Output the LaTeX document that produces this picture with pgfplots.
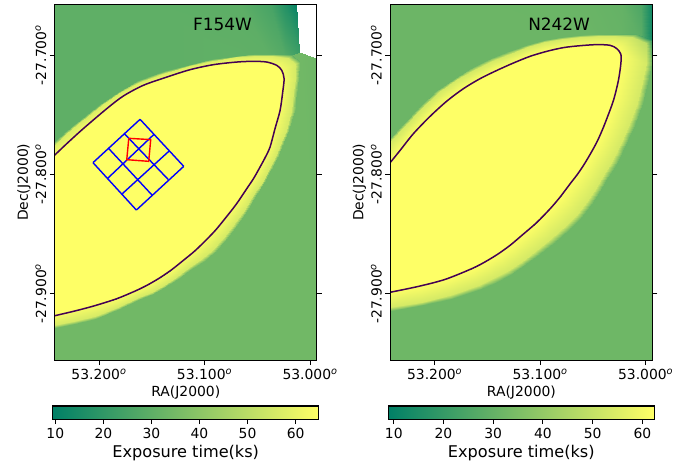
\documentclass[border=0pt]{standalone}
\usepackage{fontspec}
\setmainfont{DejaVu Sans}
\usepackage{pgfplots}
\usepackage{pgfplotstable}
\pgfplotsset{compat=1.18}

\pgfplotstableread{
ra dec v
53.2427 -27.7732 31
53.2313 -27.7640 31
53.2218 -27.7568 31
53.1991 -27.7409 31
53.1820 -27.7309 31
53.1621 -27.7212 31
53.1384 -27.7137 31
53.1156 -27.7082 31
53.0929 -27.7036 31
53.0701 -27.7007 31
53.0531 -27.6994 31
53.0341 -27.6990 30
53.0170 -27.6999 30
53.0099 -27.7062 33
53.0104 -27.7195 34
53.0123 -27.7313 34
53.0147 -27.7472 34
53.0199 -27.7631 34
53.0265 -27.7774 34
53.0314 -27.7873 34
53.0369 -27.7967 34
53.0433 -27.8071 34
53.0502 -27.8168 34
53.0598 -27.8310 34
53.0701 -27.8444 34
53.0799 -27.8553 34
53.0905 -27.8654 34
53.1018 -27.8734 34
53.1137 -27.8805 34
53.1254 -27.8880 34
53.1374 -27.8947 34
53.1492 -27.9002 34
53.1611 -27.9048 34
53.1810 -27.9131 34
53.2038 -27.9211 34
53.2237 -27.9257 34
53.2427 -27.9291 34
53.2427 -27.7760 57
53.2311 -27.7666 57
53.2201 -27.7580 57
53.1975 -27.7419 57
53.1808 -27.7318 57
53.1611 -27.7223 57
53.1378 -27.7149 57
53.1151 -27.7092 57
53.0926 -27.7047 57
53.0699 -27.7020 57
53.0533 -27.7009 57
53.0358 -27.7007 57
53.0206 -27.7021 56
53.0141 -27.7079 56
53.0140 -27.7196 56
53.0157 -27.7312 56
53.0181 -27.7470 56
53.0232 -27.7627 56
53.0294 -27.7773 56
53.0342 -27.7869 56
53.0395 -27.7960 56
53.0458 -27.8061 56
53.0527 -27.8156 56
53.0623 -27.8295 56
53.0727 -27.8426 56
53.0824 -27.8532 56
53.0928 -27.8630 56
53.1038 -27.8711 56
53.1153 -27.8784 56
53.1268 -27.8860 56
53.1386 -27.8927 56
53.1502 -27.8982 56
53.1619 -27.9029 56
53.1816 -27.9109 56
53.2042 -27.9184 56
53.2239 -27.9230 56
53.2427 -27.9265 56
53.2427 -27.7845 62.5
53.2306 -27.7743 62.5
53.2149 -27.7617 62.5
53.1927 -27.7450 62.5
53.1770 -27.7344 62.5
53.1580 -27.7254 62.5
53.1358 -27.7185 62.5
53.1137 -27.7123 62.5
53.0916 -27.7081 62.5
53.0695 -27.7059 62.5
53.0537 -27.7053 62.5
53.0410 -27.7059 62.5
53.0315 -27.7087 62.5
53.0268 -27.7129 62.5
53.0246 -27.7198 62.5
53.0259 -27.7310 62.5
53.0284 -27.7464 62.5
53.0332 -27.7617 62.5
53.0379 -27.7771 62.5
53.0424 -27.7857 62.5
53.0474 -27.7939 62.5
53.0534 -27.8033 62.5
53.0600 -27.8120 62.5
53.0699 -27.8250 62.5
53.0806 -27.8371 62.5
53.0897 -27.8469 62.5
53.0995 -27.8559 62.5
53.1095 -27.8644 62.5
53.1201 -27.8721 62.5
53.1310 -27.8798 62.5
53.1422 -27.8866 62.5
53.1532 -27.8923 62.5
53.1643 -27.8972 62.5
53.1832 -27.9042 62.5
53.2054 -27.9104 62.5
53.2244 -27.9148 62.5
53.2427 -27.9186 62.5
}\ringL

\pgfplotstableread{
ra dec
53.2427 -27.7845
53.2306 -27.7743
53.2149 -27.7617
53.1927 -27.7450
53.1770 -27.7344
53.1580 -27.7254
53.1358 -27.7185
53.1137 -27.7123
53.0916 -27.7081
53.0695 -27.7059
53.0537 -27.7053
53.0410 -27.7059
53.0315 -27.7087
53.0268 -27.7129
53.0246 -27.7198
53.0259 -27.7310
53.0284 -27.7464
53.0332 -27.7617
53.0379 -27.7771
53.0424 -27.7857
53.0474 -27.7939
53.0534 -27.8033
53.0600 -27.8120
53.0699 -27.8250
53.0806 -27.8371
53.0897 -27.8469
53.0995 -27.8559
53.1095 -27.8644
53.1201 -27.8721
53.1310 -27.8798
53.1422 -27.8866
53.1532 -27.8923
53.1643 -27.8972
53.1832 -27.9042
53.2054 -27.9104
53.2244 -27.9148
53.2427 -27.9186
}\contL

\pgfplotstableread{
ra dec v
53.2521 -27.7791 31.5
53.2436 -27.7703 31.5
53.2313 -27.7589 31.5
53.2152 -27.7439 31.5
53.1981 -27.7296 31.5
53.1810 -27.7191 31.5
53.1640 -27.7103 31.5
53.1469 -27.7028 31.5
53.1298 -27.6969 31.5
53.1137 -27.6919 31.5
53.0967 -27.6877 31.5
53.0796 -27.6852 31.5
53.0625 -27.6833 31.5
53.0455 -27.6824 31
53.0284 -27.6821 30
53.0095 -27.6827 28
52.9933 -27.6877 14
52.9943 -27.7070 32
52.9976 -27.7229 32
53.0028 -27.7405 32
53.0104 -27.7589 32
53.0163 -27.7710 32
53.0227 -27.7824 32
53.0295 -27.7936 32
53.0369 -27.8042 32
53.0440 -27.8154 32
53.0516 -27.8260 32
53.0614 -27.8365 32
53.0720 -27.8461 32
53.0872 -27.8579 32
53.1033 -27.8687 32
53.1158 -27.8769 32
53.1289 -27.8842 32
53.1425 -27.8907 32
53.1564 -27.8964 32
53.1848 -27.9043 32
53.2114 -27.9098 32
53.2427 -27.9142 32
53.2502 -27.7814 53.5
53.2414 -27.7722 53.5
53.2291 -27.7603 53.5
53.2130 -27.7454 53.5
53.1962 -27.7314 53.5
53.1793 -27.7209 53.5
53.1626 -27.7122 53.5
53.1457 -27.7048 53.5
53.1289 -27.6989 53.5
53.1129 -27.6937 53.5
53.0961 -27.6895 53.5
53.0793 -27.6869 53.5
53.0624 -27.6851 53.5
53.0456 -27.6842 53.5
53.0294 -27.6841 53.5
53.0131 -27.6851 52
52.9993 -27.6900 48
53.0001 -27.7070 53.5
53.0032 -27.7226 53.5
53.0083 -27.7400 53.5
53.0157 -27.7578 53.5
53.0213 -27.7695 53.5
53.0274 -27.7805 53.5
53.0341 -27.7915 53.5
53.0413 -27.8019 53.5
53.0482 -27.8125 53.5
53.0556 -27.8224 53.5
53.0653 -27.8329 53.5
53.0757 -27.8426 53.5
53.0904 -27.8544 53.5
53.1061 -27.8652 53.5
53.1183 -27.8734 53.5
53.1310 -27.8807 53.5
53.1444 -27.8872 53.5
53.1581 -27.8929 53.5
53.1858 -27.9010 53.5
53.2122 -27.9066 53.5
53.2427 -27.9111 53.5
53.2427 -27.7908 61.8
53.2327 -27.7799 61.8
53.2201 -27.7659 61.8
53.2043 -27.7514 61.8
53.1884 -27.7386 61.8
53.1727 -27.7282 61.8
53.1569 -27.7198 61.8
53.1410 -27.7129 61.8
53.1253 -27.7067 61.8
53.1095 -27.7011 61.8
53.0936 -27.6969 61.8
53.0779 -27.6938 61.8
53.0621 -27.6922 61.8
53.0462 -27.6913 61.8
53.0336 -27.6919 61.8
53.0273 -27.6947 61.8
53.0235 -27.6994 61.8
53.0235 -27.7072 61.8
53.0258 -27.7212 61.8
53.0305 -27.7380 61.8
53.0368 -27.7533 61.8
53.0413 -27.7633 61.8
53.0462 -27.7729 61.8
53.0524 -27.7829 61.8
53.0589 -27.7925 61.8
53.0650 -27.8004 61.8
53.0715 -27.8078 61.8
53.0807 -27.8186 61.8
53.0905 -27.8288 61.8
53.1034 -27.8405 61.8
53.1173 -27.8511 61.8
53.1281 -27.8592 61.8
53.1395 -27.8665 61.8
53.1519 -27.8732 61.8
53.1647 -27.8790 61.8
53.1900 -27.8880 61.8
53.2154 -27.8939 61.8
53.2427 -27.8989 61.8
}\ringR

\pgfplotstableread{
ra dec
53.2427 -27.7908
53.2327 -27.7799
53.2201 -27.7659
53.2043 -27.7514
53.1884 -27.7386
53.1727 -27.7282
53.1569 -27.7198
53.1410 -27.7129
53.1253 -27.7067
53.1095 -27.7011
53.0936 -27.6969
53.0779 -27.6938
53.0621 -27.6922
53.0462 -27.6913
53.0336 -27.6919
53.0273 -27.6947
53.0235 -27.6994
53.0235 -27.7072
53.0258 -27.7212
53.0305 -27.7380
53.0368 -27.7533
53.0413 -27.7633
53.0462 -27.7729
53.0524 -27.7829
53.0589 -27.7925
53.0650 -27.8004
53.0715 -27.8078
53.0807 -27.8186
53.0905 -27.8288
53.1034 -27.8405
53.1173 -27.8511
53.1281 -27.8592
53.1395 -27.8665
53.1519 -27.8732
53.1647 -27.8790
53.1900 -27.8880
53.2154 -27.8939
53.2427 -27.8989
}\contR

\definecolor{yellowfill}{rgb}{0.995,1,0.4}
\definecolor{contourcol}{HTML}{440154}

\pgfplotsset{
  summerR/.style={colormap={summerR}{rgb=(0,0.5,0.4) rgb=(1,1,0.4)}},
  panel/.style={
    scale only axis, width=262.2bp, height=356bp, anchor=south west,
    x dir=reverse, xmin=52.9935, xmax=53.2420, ymin=-27.9558, ymax=-27.6575,
    summerR, axis on top,
    xtick={53.0,53.1,53.2},
    xticklabels={53.000\textsuperscript{\itshape o},53.100\textsuperscript{\itshape o},53.200\textsuperscript{\itshape o}},
    ytick={-27.9,-27.8,-27.7},
    yticklabels={-27.900\textsuperscript{\itshape o},-27.800\textsuperscript{\itshape o},-27.700\textsuperscript{\itshape o}},
    xtick pos=bottom, ytick pos=both, yticklabel pos=left,
    tick align=outside, major tick length=4.9bp,
    every tick/.style={black,line width=0.9bp},
    axis line style={line width=1.1bp},
    tick label style={font=\fontsize{13.95}{16}\selectfont},
    label style={font=\fontsize{13.95}{16}\selectfont},
    yticklabel style={rotate=90,anchor=south},
    xlabel={RA(J2000)}, ylabel={Dec(J2000)},
    ylabel style={yshift=-2bp},
  },
  cbar/.style={
    scale only axis, width=266bp, height=13.3bp, anchor=south west,
    summerR, axis on top, ymin=0, ymax=1, ytick=\empty,
    xtick={10,20,30,40,50,60}, xtick pos=bottom, tick align=outside, major tick length=4.9bp,
    every tick/.style={black,line width=0.9bp},
    axis line style={line width=1.1bp},
    tick label style={font=\fontsize{13.95}{16}\selectfont},
    label style={font=\fontsize{16.2}{20}\selectfont},
    xlabel={Exposure time(ks)},
    /pgf/number format/assume math mode=true,
  },
}

\begin{document}
\begin{tikzpicture}[x=1bp,y=1bp]
\useasboundingbox (0,0) rectangle (693,462);

% ---------- left panel ----------
\begin{axis}[panel, at={(54.7bp,101.7bp)}, point meta min=9.46, point meta max=64.8]
\addplot[surf, shader=interp, mesh/rows=2, mesh/cols=3, point meta=\thisrow{v}] table[x=ra,y=dec]{
ra dec v
53.2427 -27.9600 34
53.0104 -27.9600 34
52.9900 -27.9600 34
53.2427 -27.6978 34
53.0104 -27.6978 34
52.9900 -27.7045 33
};
\addplot[surf, shader=interp, mesh/rows=2, mesh/cols=6, point meta=\thisrow{v}] table[x=ra,y=dec]{
ra dec v
53.2427 -27.7799 30
53.1517 -27.7254 30
53.0663 -27.7045 30.5
53.0379 -27.7028 30
53.0237 -27.7028 28
53.0104 -27.6978 22
53.2427 -27.6570 30
53.1517 -27.6570 30
53.0663 -27.6570 29.5
53.0379 -27.6570 25
53.0237 -27.6570 17
53.0132 -27.6570 11
};
\addplot[surf, shader=interp, mesh/rows=3, mesh/cols=37, point meta=\thisrow{v}] table[x=ra,y=dec]{\ringL};
\addplot[fill=yellowfill, draw=none, forget plot, smooth, tension=0.5] table[x=ra,y=dec]{\contL};
\addplot[contourcol, line width=1.5bp, no marks, smooth, tension=0.5] table[x=ra,y=dec]{\contL};
\addplot[blue, line width=1.4bp, no marks] coordinates {(53.1611,-27.7539) (53.1197,-27.7933)};
\addplot[blue, line width=1.4bp, no marks] coordinates {(53.1760,-27.7659) (53.1343,-27.8044)};
\addplot[blue, line width=1.4bp, no marks] coordinates {(53.1912,-27.7780) (53.1495,-27.8176)};
\addplot[blue, line width=1.4bp, no marks] coordinates {(53.2057,-27.7902) (53.1646,-27.8299)};
\addplot[blue, line width=1.4bp, no marks] coordinates {(53.1611,-27.7539) (53.2057,-27.7902)};
\addplot[blue, line width=1.4bp, no marks] coordinates {(53.1479,-27.7665) (53.1921,-27.8036)};
\addplot[blue, line width=1.4bp, no marks] coordinates {(53.1336,-27.7805) (53.1779,-27.8162)};
\addplot[blue, line width=1.4bp, no marks] coordinates {(53.1197,-27.7933) (53.1646,-27.8299)};
\addplot[red, line width=1.4bp, no marks] coordinates {(53.1718,-27.7698) (53.1510,-27.7709) (53.1529,-27.7891) (53.1737,-27.7877) (53.1718,-27.7698)};
\node[font=\fontsize{17}{20}\selectfont] at (axis cs:53.0829,-27.6743) {F154W};
\end{axis}

% ---------- right panel ----------
\begin{axis}[panel, at={(390.3bp,101.7bp)}, point meta min=8.9, point meta max=62.4]
\addplot[surf, shader=interp, mesh/rows=2, mesh/cols=2, point meta=\thisrow{v}] table[x=ra,y=dec]{
ra dec v
53.2427 -27.9600 32
52.9900 -27.9600 32
53.2427 -27.7100 32
52.9900 -27.7100 32
};
\addplot[surf, shader=interp, mesh/rows=2, mesh/cols=6, point meta=\thisrow{v}] table[x=ra,y=dec]{
ra dec v
53.2427 -27.7757 31.5
53.1517 -27.7112 31.5
53.0569 -27.6877 31.5
53.0237 -27.6877 30.5
53.0047 -27.6877 28
52.9933 -27.6919 12
53.2427 -27.6570 31.5
53.1517 -27.6570 31.5
53.0569 -27.6570 31
53.0237 -27.6570 30
53.0047 -27.6570 25
52.9933 -27.6570 11
};
\addplot[surf, shader=interp, mesh/rows=3, mesh/cols=38, point meta=\thisrow{v}] table[x=ra,y=dec]{\ringR};
\addplot[fill=yellowfill, draw=none, forget plot, smooth, tension=0.5] table[x=ra,y=dec]{\contR};
\addplot[contourcol, line width=1.5bp, no marks, smooth, tension=0.5] table[x=ra,y=dec]{\contR};
\node[font=\fontsize{17}{20}\selectfont] at (axis cs:53.0820,-27.6743) {N242W};
\end{axis}

% ---------- colour bars ----------
\begin{axis}[cbar, at={(52.7bp,42.7bp)}, xmin=9.46, xmax=64.8, point meta min=9.46, point meta max=64.8]
\addplot[surf, shader=interp, mesh/rows=2, mesh/cols=2, point meta=x] table{
9.46 0
64.8 0
9.46 1
64.8 1
};
\end{axis}
\begin{axis}[cbar, at={(388.3bp,42.7bp)}, xmin=8.9, xmax=62.4, point meta min=8.9, point meta max=62.4]
\addplot[surf, shader=interp, mesh/rows=2, mesh/cols=2, point meta=x] table{
8.9 0
62.4 0
8.9 1
62.4 1
};
\end{axis}
\end{tikzpicture}
\end{document}
